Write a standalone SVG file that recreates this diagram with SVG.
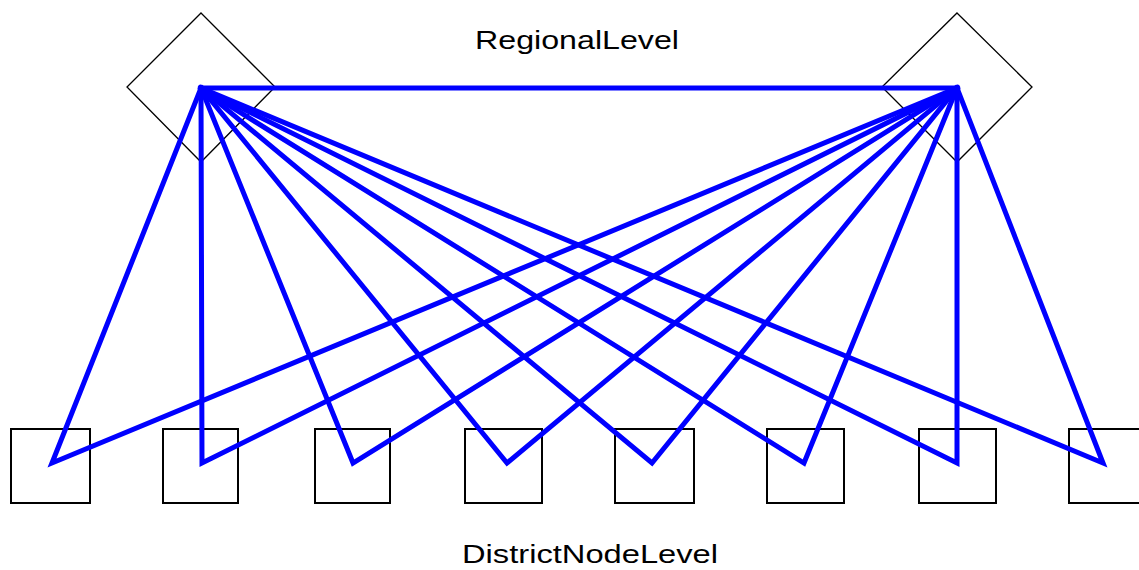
<svg xmlns="http://www.w3.org/2000/svg" width="1139" height="570" viewBox="0 0 1139 570">
  <style>
    .region { fill: #ffffff; stroke: #000000; stroke-width: 1.3; }
    .district { fill: #ffffff; stroke: #000000; stroke-width: 2; }
    .link { fill: none; stroke: #0000ff; stroke-width: 5; stroke-linejoin: miter; stroke-linecap: square; }
    .label { font-family: "Liberation Sans", Arial, sans-serif; font-size: 26px; fill: #000000; }
  </style>
  <rect width="1139" height="570" fill="#ffffff"/>

  <!-- regional nodes (diamonds) -->
  <g id="region-1"><polygon class="region" points="201,13 275,87 201,162 127,87"/></g>
  <g id="region-2"><polygon class="region" points="957,13 1032,87 957,162 882,87"/></g>

  <!-- district nodes (squares) -->
  <g id="district-1"><rect class="district" x="11" y="429" width="79" height="74"/></g>
  <g id="district-2"><rect class="district" x="163" y="429" width="75" height="74"/></g>
  <g id="district-3"><rect class="district" x="315" y="429" width="75" height="74"/></g>
  <g id="district-4"><rect class="district" x="465" y="429" width="77" height="74"/></g>
  <g id="district-5"><rect class="district" x="615" y="429" width="79" height="74"/></g>
  <g id="district-6"><rect class="district" x="767" y="429" width="77" height="74"/></g>
  <g id="district-7"><rect class="district" x="919" y="429" width="77" height="74"/></g>
  <g id="district-8"><rect class="district" x="1069" y="429" width="80" height="74"/></g>

  <!-- links: each district joins both regional hubs -->
  <g id="connectors">
    <line class="link" x1="201" y1="88" x2="957" y2="88"/>
    <polyline class="link" points="201,88 52,463 957,88"/>
    <polyline class="link" points="201,88 202,463 957,88"/>
    <polyline class="link" points="201,88 353,463 957,88"/>
    <polyline class="link" points="201,88 507,463 957,88"/>
    <polyline class="link" points="201,88 652,463 957,88"/>
    <polyline class="link" points="201,88 804,463 957,88"/>
    <polyline class="link" points="201,88 957,463 957,88"/>
    <polyline class="link" points="201,88 1103,463 957,88"/>
  </g>

  <!-- level captions -->
  <text class="label" x="475" y="49" textLength="204" lengthAdjust="spacingAndGlyphs">RegionalLevel</text>
  <text class="label" x="462" y="563" textLength="256" lengthAdjust="spacingAndGlyphs">DistrictNodeLevel</text>
</svg>
